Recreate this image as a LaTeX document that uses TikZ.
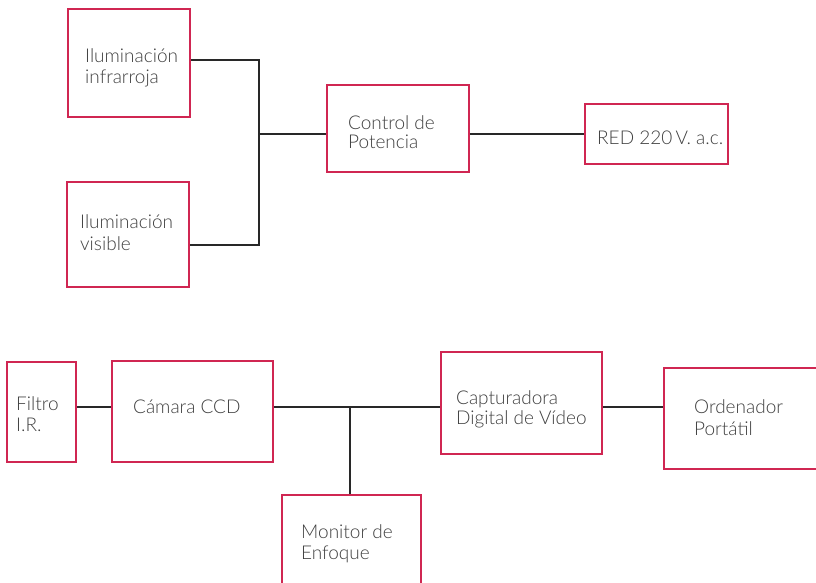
\documentclass[tikz,border=0pt]{standalone}
\usepackage{fontspec}
\IfFontExistsTF{Lato Light}{\setmainfont{Lato Light}}{\setmainfont{Lato}}
\definecolor{boxred}{RGB}{208,38,82}
\definecolor{txtgray}{RGB}{64,64,64}
\definecolor{linegray}{RGB}{40,40,40}
\tikzset{
  blk/.style={draw=boxred, line width=2.6pt, fill=none, inner sep=0pt},
  lbl/.style={anchor=base west, inner sep=0pt, text=txtgray, font=\fontsize{19}{21}\selectfont},
  wire/.style={draw=linegray, line width=1.2pt}
}
\newcommand{\blkat}[5]{%
  \node[blk, minimum width={(#4-#2)*1pt}, minimum height={(#5-#3)*1pt}] (#1) at ({(#2+#4)/2},{(#3+#5)/2}) {};}
\begin{document}
\begin{tikzpicture}[x=1pt,y=-1pt]
\useasboundingbox (0,0) rectangle (816,583);
\clip (0,0) rectangle (816,583);
\fill[white] (0,0) rectangle (816,583);
% boxes
\blkat{ir}{68}{9}{190}{117}
\blkat{vis}{67}{182}{189}{287}
\blkat{ctrl}{327}{85}{469}{172}
\blkat{red}{585}{104}{728}{164}
\blkat{filtro}{7}{362}{76}{462}
\blkat{cam}{112}{361}{273}{462}
\blkat{mon}{282}{495}{421}{610}
\blkat{cap}{441}{352}{602}{454}
\blkat{ord}{664}{368}{840}{469}
% texts
\node[lbl] (t1a) at (85,63) {Iluminación};
\node[lbl] (t1b) at (85,84) {infrarroja};
\node[lbl] (t2a) at (80,228) {Iluminación};
\node[lbl] (t2b) at (80,250) {visible};
\node[lbl] (t3a) at (348,129) {Control de};
\node[lbl] (t3b) at (348,149) {Potencia};
\node[lbl] (t4) at (597,144) {RED 220\,V. a.c.};
\node[lbl] (t5a) at (16,410) {Filtro};
\node[lbl] (t5b) at (16,431) {I.R.};
\node[lbl] (t6) at (133,413) {Cámara CCD};
\node[lbl] (t7a) at (301,538) {Monitor de};
\node[lbl] (t7b) at (301,559) {Enfoque};
\node[lbl] (t8a) at (456,404) {Capturadora};
\node[lbl] (t8b) at (456,424) {Digital de Vídeo};
\node[lbl] (t9a) at (694,413) {Ordenador};
\node[lbl] (t9b) at (694,435) {Portátil};
% junctions
\coordinate (j1) at (259,134);
\coordinate (j2) at (350,407);
% connectors
\draw[wire] ([yshift=3pt]ir.east) -| (j1);
\draw[wire] ([yshift=-10.5pt]vis.east) -| (j1);
\draw[wire] (j1) -- (ctrl.west |- j1);
\draw[wire] (ctrl.east |- red.west) -- (red.west);
\draw[wire] (filtro.east |- j2) -- (cam.west |- j2);
\draw[wire] (cam.east |- j2) -- (cap.west |- j2);
\draw[wire] (cap.east |- j2) -- (ord.west |- j2);
\draw[wire] (j2) -- (j2 |- mon.north);
\end{tikzpicture}
\end{document}
